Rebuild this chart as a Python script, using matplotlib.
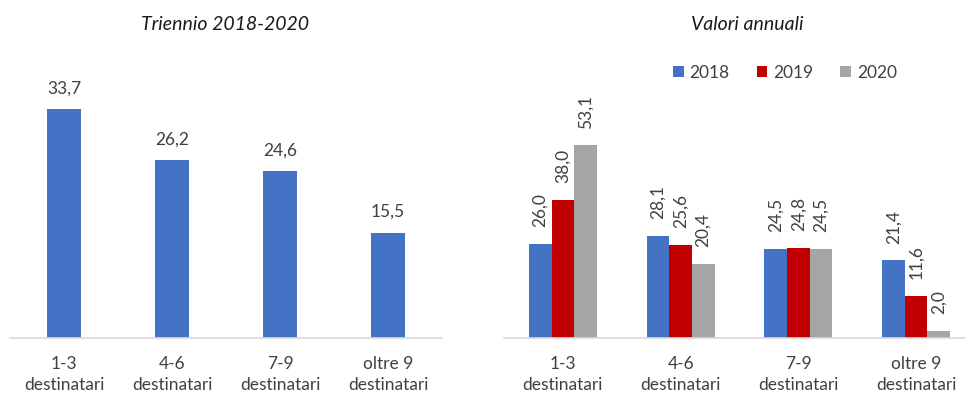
import matplotlib
matplotlib.use("Agg")
import matplotlib.pyplot as plt
import numpy as np

categories = ["1-3\ndestinatari", "4-6\ndestinatari", "7-9\ndestinatari", "oltre 9\ndestinatari"]
triennio = [33.7, 26.2, 24.6, 15.5]
years = ["2018", "2019", "2020"]
v2018 = [26.0, 28.1, 24.5, 21.4]
v2019 = [38.0, 25.6, 24.8, 11.6]
v2020 = [53.1, 20.4, 24.5, 2.0]

colors = ["#4472C4", "#C00000", "#A5A5A5"]
txt = "#404040"
plt.rcParams['font.family'] = ['Lato', 'DejaVu Sans']

W, H = 965, 393
fig = plt.figure(figsize=(W/100, H/100), dpi=100)

def fmt(v):
    return f"{v:.1f}".replace(".", ",")

def style(ax):
    for s in ["top", "right", "left"]:
        ax.spines[s].set_visible(False)
    ax.spines["bottom"].set_color("#D9D9D9")
    ax.spines["bottom"].set_linewidth(1.2)
    ax.set_yticks([])
    ax.tick_params(axis="x", length=0, pad=13, labelsize=12.5, labelcolor=txt)

base = 338
top = 50
# Left axes
ax1 = fig.add_axes([10/W, (H-base)/H, 432/W, (base-top)/H])
x = np.arange(len(categories))
ax1.bar(x, triennio, width=0.315, color=colors[0])
ax1.set_xlim(-0.5, 3.5)
ax1.set_ylim(0, (base-top)/6.8)
for xi, v in zip(x, triennio):
    ax1.annotate(fmt(v), (xi, v), xytext=(0, 9), textcoords="offset points",
                 ha="center", va="bottom", fontsize=12.5, color=txt)
ax1.set_xticks(x)
ax1.set_xticklabels(categories, linespacing=1.35)
style(ax1)

# Right axes
ax2 = fig.add_axes([504/W, (H-base)/H, 471/W, (base-top)/H])
bw = 0.192
for i, (vals, yr) in enumerate(zip([v2018, v2019, v2020], years)):
    pos = x + (i-1)*bw
    ax2.bar(pos, vals, width=bw, color=colors[i], label=yr)
    for p, v in zip(pos, vals):
        ax2.annotate(fmt(v), (p, v), xytext=(0, 12), textcoords="offset points",
                     ha="center", va="bottom", rotation=90, fontsize=12.5, color=txt)
ax2.set_xlim(-0.5, 3.5)
ax2.set_ylim(0, (base-top)/3.63)
ax2.set_xticks(x)
ax2.set_xticklabels(categories, linespacing=1.35)
style(ax2)
leg = fig.legend(loc="center", bbox_to_anchor=(785/W, 1-73/H), ncol=3, frameon=False,
                 fontsize=12.5, handlelength=0.6, handleheight=0.6, columnspacing=1.55,
                 handletextpad=0.35)
for t in leg.get_texts():
    t.set_color(txt)

fig.text(225/W, 1-25/H, "Triennio 2018-2020", ha="center", va="center",
         fontsize=14, style="italic", color="#1a1a1a")
fig.text(747/W, 1-25/H, "Valori annuali", ha="center", va="center",
         fontsize=14, style="italic", color="#1a1a1a")

fig.savefig("out.png", dpi=100)
